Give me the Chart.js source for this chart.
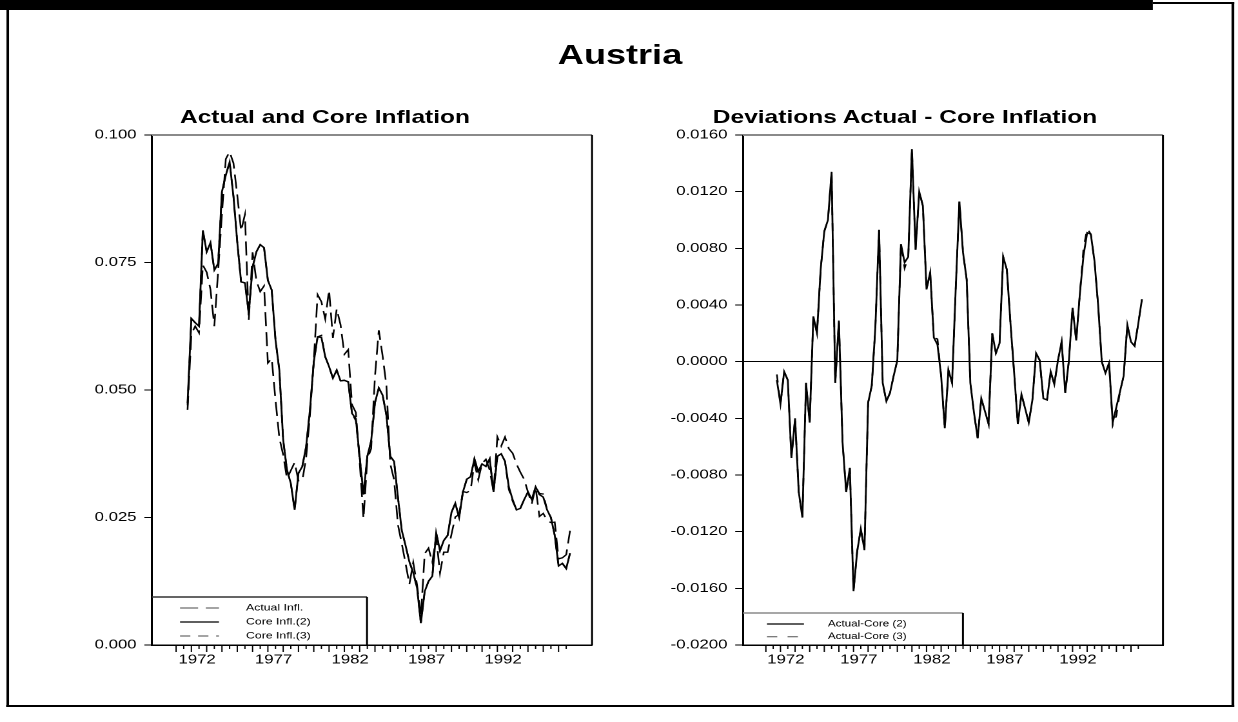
<!DOCTYPE html>
<html>
<head>
<meta charset="utf-8">
<title>Austria</title>
<script src="https://cdn.jsdelivr.net/npm/chart.js@4.4.1/dist/chart.umd.min.js"></script>
<style>
    html, body { margin: 0; padding: 0; background: #fff; overflow: hidden; }
    /* the reference is a 4:3 page stretched to 1238 wide, so draw at 960 and stretch */
    #page {
        position: absolute; left: 0; top: 0; width: 960px; height: 722px;
        transform: scaleX(1.2896); transform-origin: 0 0;
        font-family: "Liberation Sans", Arial, sans-serif; color: #000;
    }
    .bar { position: absolute; background: #000; }
    .ttl { position: absolute; font-weight: bold; text-align: center; white-space: nowrap; }
    canvas { position: absolute; }
</style>
</head>
<body>
<div id="page">
    <div class="bar" style="left:0;top:0;width:894px;height:10px"></div>
    <div class="bar" style="left:894px;top:2px;width:63px;height:2px"></div>
    <div class="bar" style="left:955.4px;top:2px;width:1.6px;height:705px"></div>
    <div class="bar" style="left:5.4px;top:10px;width:1.6px;height:697px"></div>
    <div class="bar" style="left:5.4px;top:705px;width:951.6px;height:2px"></div>

    <div class="ttl" style="left:380.8px;width:200px;top:41px;font-size:28px;line-height:28px">Austria</div>
    <div class="ttl" style="left:102px;width:300px;top:107px;font-size:19px;line-height:19px">Actual and Core Inflation</div>
    <div class="ttl" style="left:501.8px;width:400px;top:107px;font-size:19px;line-height:19px">Deviations Actual - Core Inflation</div>

    <canvas id="infl-chart" width="470" height="600" style="left:20px;top:120px"></canvas>
    <canvas id="dev-chart" width="430" height="600" style="left:500px;top:120px"></canvas>
</div>

<script>
    // 季度数据, 从 1971Q4 到 1996Q4
    const START_PERIOD = 1971.75;

    const actualInfl = [
        0.0461, 0.0610, 0.0625, 0.0612, 0.0745, 0.0731, 0.0697, 0.0625, 0.0733, 0.0846,
        0.0953, 0.0967, 0.0945, 0.0882, 0.0812, 0.0844, 0.0636, 0.0770, 0.0714, 0.0693,
        0.0704, 0.0553, 0.0562, 0.0480, 0.0406, 0.0373, 0.0326, 0.0342, 0.0358, 0.0322,
        0.0322, 0.0367, 0.0451, 0.0556, 0.0687, 0.0673, 0.0639, 0.0696, 0.0602, 0.0659,
        0.0628, 0.0570, 0.0579, 0.0471, 0.0456, 0.0359, 0.0248, 0.0364, 0.0385, 0.0527,
        0.0617, 0.0567, 0.0508, 0.0355, 0.0324, 0.0236, 0.0199, 0.0160, 0.0119, 0.0162,
        0.0118, 0.0056, 0.0179, 0.0190, 0.0162, 0.0212, 0.0141, 0.0182, 0.0182, 0.0217,
        0.0251, 0.0256, 0.0301, 0.0299, 0.0303, 0.0358, 0.0324, 0.0356, 0.0364, 0.0343,
        0.0301, 0.0408, 0.0390, 0.0408, 0.0385, 0.0376, 0.0355, 0.0339, 0.0325, 0.0300,
        0.0277, 0.0309, 0.0252, 0.0258, 0.0244, 0.0240, 0.0241, 0.0169, 0.0171, 0.0177,
        0.0224
    ];

    const coreInfl2 = [
        0.0474, 0.0640, 0.0632, 0.0625, 0.0813, 0.0771, 0.0789, 0.0735, 0.0748, 0.0889,
        0.0921, 0.0947, 0.0880, 0.0790, 0.0712, 0.0710, 0.0651, 0.0741, 0.0771, 0.0785,
        0.0779, 0.0715, 0.0696, 0.0598, 0.0539, 0.0402, 0.0343, 0.0317, 0.0265, 0.0337,
        0.0350, 0.0389, 0.0461, 0.0555, 0.0604, 0.0603, 0.0565, 0.0546, 0.0523, 0.0539,
        0.0518, 0.0519, 0.0516, 0.0454, 0.0444, 0.0369, 0.0295, 0.0370, 0.0400, 0.0475,
        0.0504, 0.0490, 0.0450, 0.0370, 0.0360, 0.0290, 0.0225, 0.0195, 0.0163, 0.0142,
        0.0112, 0.0043, 0.0105, 0.0125, 0.0135, 0.0220, 0.0185, 0.0205, 0.0215, 0.0260,
        0.0278, 0.0250, 0.0300, 0.0325, 0.0330, 0.0365, 0.0340, 0.0355, 0.0350, 0.0365,
        0.0300, 0.0370, 0.0375, 0.0360, 0.0310, 0.0285, 0.0265, 0.0268, 0.0285, 0.0300,
        0.0285, 0.0310, 0.0295, 0.0290, 0.0265, 0.0250, 0.0215, 0.0155, 0.0160, 0.0150,
        0.0180
    ];

    const coreInfl3 = [
        0.0470, 0.0640, 0.0632, 0.0625, 0.0813, 0.0771, 0.0789, 0.0735, 0.0748, 0.0889,
        0.0921, 0.0947, 0.0880, 0.0790, 0.0712, 0.0710, 0.0651, 0.0741, 0.0771, 0.0785,
        0.0779, 0.0715, 0.0696, 0.0598, 0.0539, 0.0402, 0.0343, 0.0317, 0.0265, 0.0337,
        0.0350, 0.0389, 0.0461, 0.0555, 0.0604, 0.0607, 0.0565, 0.0546, 0.0523, 0.0539,
        0.0518, 0.0519, 0.0516, 0.0454, 0.0440, 0.0369, 0.0295, 0.0370, 0.0400, 0.0475,
        0.0504, 0.0490, 0.0450, 0.0370, 0.0360, 0.0290, 0.0225, 0.0195, 0.0163, 0.0142,
        0.0112, 0.0043, 0.0105, 0.0125, 0.0135, 0.0220, 0.0185, 0.0205, 0.0215, 0.0260,
        0.0278, 0.0250, 0.0300, 0.0325, 0.0330, 0.0365, 0.0340, 0.0355, 0.0350, 0.0365,
        0.0300, 0.0370, 0.0375, 0.0360, 0.0305, 0.0282, 0.0265, 0.0268, 0.0285, 0.0300,
        0.0285, 0.0310, 0.0297, 0.0296, 0.0265, 0.0250, 0.0215, 0.0155, 0.0160, 0.0150,
        0.0180
    ];

    const devCore2 = [
        -0.0013, -0.0030, -0.0007, -0.0013, -0.0068, -0.0040, -0.0092, -0.0110, -0.0015, -0.0043,
        0.0032, 0.0020, 0.0065, 0.0092, 0.0100, 0.0134, -0.0015, 0.0029, -0.0057, -0.0092,
        -0.0075, -0.0162, -0.0134, -0.0118, -0.0133, -0.0029, -0.0017, 0.0025, 0.0093, -0.0015,
        -0.0028, -0.0022, -0.0010, 0.0001, 0.0083, 0.0070, 0.0074, 0.0150, 0.0079, 0.0120,
        0.0110, 0.0051, 0.0063, 0.0017, 0.0012, -0.0010, -0.0047, -0.0006, -0.0015, 0.0052,
        0.0113, 0.0077, 0.0058, -0.0015, -0.0036, -0.0054, -0.0026, -0.0035, -0.0044, 0.0020,
        0.0006, 0.0013, 0.0074, 0.0065, 0.0027, -0.0008, -0.0044, -0.0023, -0.0033, -0.0043,
        -0.0027, 0.0006, 0.0001, -0.0026, -0.0027, -0.0007, -0.0016, 0.0001, 0.0014, -0.0022,
        0.0001, 0.0038, 0.0015, 0.0048, 0.0075, 0.0091, 0.0090, 0.0071, 0.0040, 0.0000,
        -0.0008, -0.0001, -0.0043, -0.0032, -0.0021, -0.0010, 0.0026, 0.0014, 0.0011, 0.0027,
        0.0044
    ];

    const devCore3 = [
        -0.0009, -0.0030, -0.0007, -0.0013, -0.0068, -0.0040, -0.0092, -0.0110, -0.0015, -0.0043,
        0.0032, 0.0020, 0.0065, 0.0092, 0.0100, 0.0134, -0.0015, 0.0029, -0.0057, -0.0092,
        -0.0075, -0.0162, -0.0134, -0.0118, -0.0133, -0.0029, -0.0017, 0.0025, 0.0093, -0.0015,
        -0.0028, -0.0022, -0.0010, 0.0001, 0.0083, 0.0066, 0.0074, 0.0150, 0.0079, 0.0120,
        0.0110, 0.0051, 0.0063, 0.0017, 0.0016, -0.0010, -0.0047, -0.0006, -0.0015, 0.0052,
        0.0113, 0.0077, 0.0058, -0.0015, -0.0036, -0.0054, -0.0026, -0.0035, -0.0044, 0.0020,
        0.0006, 0.0013, 0.0074, 0.0065, 0.0027, -0.0008, -0.0044, -0.0023, -0.0033, -0.0043,
        -0.0027, 0.0006, 0.0001, -0.0026, -0.0027, -0.0007, -0.0016, 0.0001, 0.0014, -0.0022,
        0.0001, 0.0038, 0.0015, 0.0048, 0.0080, 0.0094, 0.0090, 0.0071, 0.0040, 0.0000,
        -0.0008, -0.0001, -0.0045, -0.0038, -0.0021, -0.0010, 0.0026, 0.0014, 0.0011, 0.0027,
        0.0044
    ];

    // 年份刻度: 每半年一个刻度, 标签年份
    const tickYears = [1972, 1977, 1982, 1987, 1992];
    const X_MIN = 1969.43, X_MAX = 1998.19;
    const FIRST_TICK = 1971, LAST_TICK = 1996.5;

    const periods = coreInfl2.map((_, i) => START_PERIOD + i * 0.25);
    const FONT = '"Liberation Sans", Arial, sans-serif';

    /**
     * 画刻度, 上/右边框和图内图例
     */
    const panelFrame = {
        id: 'panelFrame',
        afterDraw(chart, args, opts) {
            const { ctx, chartArea: a, scales } = chart;
            const xs = scales.x;
            ctx.save();

            ctx.strokeStyle = '#000';
            ctx.lineWidth = 1;
            xs.ticks.forEach(t => {
                const px = xs.getPixelForValue(t.value);
                const len = Number.isInteger(t.value) ? 7 : 4;
                ctx.beginPath();
                ctx.moveTo(px, a.bottom);
                ctx.lineTo(px, a.bottom + len);
                ctx.stroke();
            });

            ctx.strokeStyle = '#8a8a8a';
            ctx.lineWidth = 2;
            ctx.beginPath();
            ctx.moveTo(a.left, a.top);
            ctx.lineTo(a.right, a.top);
            ctx.stroke();

            ctx.strokeStyle = '#000';
            ctx.lineWidth = 1.5;
            ctx.beginPath();
            ctx.moveTo(a.right, a.top);
            ctx.lineTo(a.right, a.bottom);
            ctx.stroke();

            // legend box
            const L = opts.legend;
            const top = a.bottom - L.height;
            const right = a.left + L.width;
            ctx.fillStyle = '#fff';
            ctx.fillRect(a.left + 1, top, L.width - 1, L.height - 1);
            ctx.strokeStyle = L.topColor;
            ctx.lineWidth = 1.5;
            ctx.beginPath();
            ctx.moveTo(a.left, top);
            ctx.lineTo(right, top);
            ctx.stroke();
            ctx.strokeStyle = '#000';
            ctx.beginPath();
            ctx.moveTo(right, top);
            ctx.lineTo(right, a.bottom);
            ctx.stroke();

            ctx.font = `${L.fontSize}px ${FONT}`;
            ctx.textBaseline = 'middle';
            ctx.textAlign = 'left';
            chart.data.datasets.forEach((ds, k) => {
                const y = top + L.firstRow + k * L.rowGap;
                const dash = L.dashes[k];
                ctx.setLineDash(dash);
                ctx.strokeStyle = dash.length ? '#6e6e6e' : '#000';
                ctx.lineWidth = 1.2;
                ctx.beginPath();
                ctx.moveTo(a.left + L.lineFrom, y);
                ctx.lineTo(a.left + L.lineTo, y);
                ctx.stroke();
                ctx.setLineDash([]);
                ctx.fillStyle = '#000';
                ctx.fillText(ds.label, a.left + L.textX, y);
            });
            ctx.restore();
        }
    };

    function xScale() {
        return {
            type: 'linear',
            min: X_MIN,
            max: X_MAX,
            afterBuildTicks: scale => {
                const ticks = [];
                for (let v = FIRST_TICK; v <= LAST_TICK; v += 0.5) ticks.push({ value: v });
                scale.ticks = ticks;
            },
            afterFit: scale => { scale.height = 30; },
            grid: { display: true, drawOnChartArea: false, drawTicks: false },
            border: { display: true, color: '#000', width: 1.5 },
            ticks: {
                autoSkip: false,
                maxRotation: 0,
                minRotation: 0,
                padding: 7,
                labelOffset: -1.5,
                color: '#000',
                font: { family: FONT, size: 13 },
                callback: v => (v % 1 === 0.5 && tickYears.includes(Math.floor(v))) ? String(Math.floor(v)) : ''
            }
        };
    }

    function lineSet(label, data, dash, width) {
        return {
            label: label,
            data: data,
            borderColor: '#000',
            borderWidth: width,
            borderDash: dash,
            pointRadius: 0,
            tension: 0,
            fill: false
        };
    }

    const LEFT_DASHES = [[14, 6], [], [8, 6]];
    const RIGHT_DASHES = [[], [8, 8]];

    new Chart(document.getElementById('infl-chart'), {
        type: 'line',
        plugins: [panelFrame],
        data: {
            labels: periods,
            datasets: [
                lineSet('Actual Infl.', actualInfl, LEFT_DASHES[0], 1.3),
                lineSet('Core Infl.(2)', coreInfl2, LEFT_DASHES[1], 1.4),
                lineSet('Core Infl.(3)', coreInfl3, LEFT_DASHES[2], 1.3)
            ]
        },
        options: {
            responsive: false,
            animation: false,
            devicePixelRatio: 2,
            layout: { padding: { left: 0, right: 30.9, top: 15, bottom: 45 } },
            scales: {
                x: xScale(),
                y: {
                    min: 0,
                    max: 0.1,
                    afterFit: scale => { scale.width = 97.9; },
                    grid: { drawOnChartArea: false, drawTicks: true, tickLength: 6, color: '#000', lineWidth: 1 },
                    border: { display: true, color: '#000', width: 1.5 },
                    ticks: {
                        stepSize: 0.025,
                        padding: 6,
                        color: '#000',
                        font: { family: FONT, size: 13 },
                        callback: v => v.toFixed(3)
                    }
                }
            },
            plugins: {
                legend: { display: false },
                tooltip: { enabled: false },
                panelFrame: {
                    legend: {
                        width: 166.7, height: 48, firstRow: 11, rowGap: 14,
                        lineFrom: 21.7, lineTo: 51.9, textX: 72.9, fontSize: 9.5,
                        topColor: '#333', dashes: LEFT_DASHES
                    }
                }
            }
        }
    });

    new Chart(document.getElementById('dev-chart'), {
        type: 'line',
        plugins: [panelFrame],
        data: {
            labels: periods,
            datasets: [
                lineSet('Actual-Core (2)', devCore2, RIGHT_DASHES[0], 1.4),
                lineSet('Actual-Core (3)', devCore3, RIGHT_DASHES[1], 1.3)
            ]
        },
        options: {
            responsive: false,
            animation: false,
            devicePixelRatio: 2,
            layout: { padding: { left: 0, right: 28.2, top: 15, bottom: 45 } },
            scales: {
                x: xScale(),
                y: {
                    min: -0.02,
                    max: 0.016,
                    afterFit: scale => { scale.width = 76.1; },
                    grid: {
                        drawOnChartArea: true,
                        drawTicks: true,
                        tickLength: 6,
                        lineWidth: 1,
                        tickColor: '#000',
                        color: c => (c.tick && Math.abs(c.tick.value) < 1e-9) ? '#000' : 'rgba(0,0,0,0)'
                    },
                    border: { display: true, color: '#000', width: 1.5 },
                    ticks: {
                        stepSize: 0.004,
                        padding: 6,
                        color: '#000',
                        font: { family: FONT, size: 13 },
                        callback: v => (Math.abs(v) < 1e-9 ? 0 : v).toFixed(4)
                    }
                }
            },
            plugins: {
                legend: { display: false },
                tooltip: { enabled: false },
                panelFrame: {
                    legend: {
                        width: 170.6, height: 32, firstRow: 11, rowGap: 12.7,
                        lineFrom: 18.6, lineTo: 47.3, textX: 65.9, fontSize: 9,
                        topColor: '#8a8a8a', dashes: RIGHT_DASHES
                    }
                }
            }
        }
    });
</script>
</body>
</html>
